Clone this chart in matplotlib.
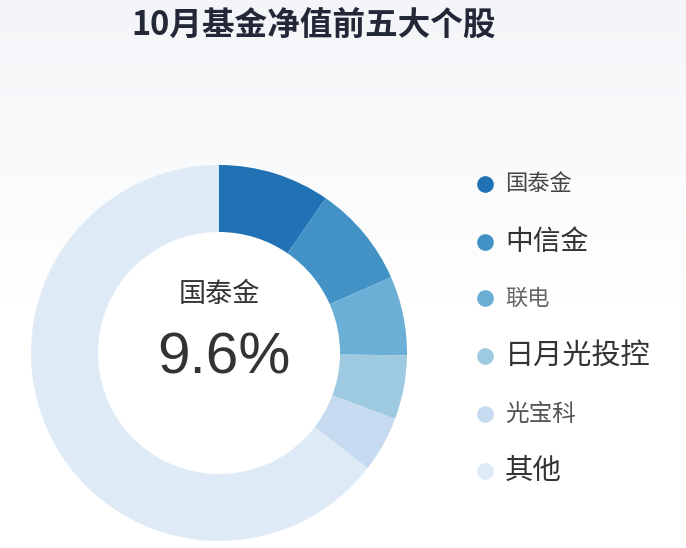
import numpy as np
import matplotlib.pyplot as plt
from matplotlib.colors import LinearSegmentedColormap
from matplotlib.patches import Circle

plt.rcParams['font.family'] = ['Noto Sans CJK SC', 'DejaVu Sans']

title = "10月基金净值前五大个股"
labels = ["国泰金", "中信金", "联电", "日月光投控", "光宝科", "其他"]
values = [9.6, 8.8, 6.8, 5.5, 4.8, 64.5]
colors = ["#2171b5", "#4292c6", "#6baed6", "#9ecae1", "#c6dbef", "#deebf7"]
# legend text sizes / colours differ per row in the original
legend_sizes = [16, 20, 16, 21, 17, 20.5]
legend_text_colors = ["#444444", "#333333", "#666666", "#333333", "#555555", "#333333"]
center_label = "国泰金"
center_value = "9.6%"

W, H = 686, 548
fig = plt.figure(figsize=(W / 100, H / 100), dpi=100)
fig.patch.set_facecolor('white')

# soft vertical background gradient, fading to white lower down
bg = fig.add_axes([0, 0, 1, 1], zorder=0)
grad = np.clip(np.linspace(0, 1, 256) * 1.8, 0, 1).reshape(-1, 1)
cmap = LinearSegmentedColormap.from_list("bg", ["#f3f5f8", "#ffffff"])
bg.imshow(grad, aspect='auto', cmap=cmap, extent=[0, 1, 0, 1])
bg.set_axis_off()

# donut: centre (219, 353) px, outer radius 188 px, inner 121 px
cx, cy, R, r_in = 219, 353, 188, 121
ax = fig.add_axes([(cx - R) / W, (H - cy - R) / H, 2 * R / W, 2 * R / H], zorder=1)
ax.pie(values, colors=colors, startangle=90, counterclock=False, radius=1,
       wedgeprops=dict(width=1 - r_in / R, linewidth=0))
ax.add_patch(Circle((0, 0), r_in / R, facecolor='white', edgecolor='none', zorder=0))
ax.set_xlim(-1, 1)
ax.set_ylim(-1, 1)
ax.set_aspect('equal')
ax.set_axis_off()

fig.text(cx / W, 1 - 295 / H, center_label, ha='center', va='center',
         fontsize=19.5, color='#333333')
fig.text(224 / W, 1 - 358 / H, center_value, ha='center', va='center',
         fontsize=42, color='#333333', family=['Liberation Sans', 'DejaVu Sans'])

fig.text(314 / W, 1 - 26 / H, title, ha='center', va='center',
         fontsize=23.5, fontweight='bold', color='#232838')

# legend drawn by hand, one row per slice
leg = fig.add_axes([0, 0, 1, 1], zorder=2)
leg.set_xlim(0, W)
leg.set_ylim(H, 0)
leg.set_axis_off()
leg.patch.set_alpha(0)
row_y = [184, 242, 298, 356, 414, 471]
for lab, col, y, fs, tc in zip(labels, colors, row_y, legend_sizes, legend_text_colors):
    leg.plot(485, y, 'o', markersize=12, color=col, markeredgewidth=0)
    leg.text(505, y, lab, ha='left', va='center', fontsize=fs, color=tc)

fig.savefig("out.png", dpi=100)
